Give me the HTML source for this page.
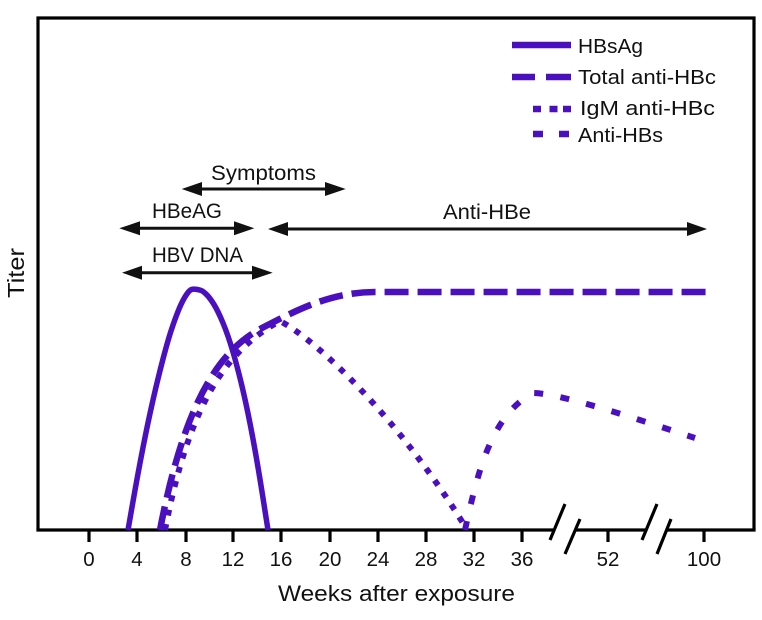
<!DOCTYPE html>
<html><head><meta charset="utf-8"><style>html,body{margin:0;padding:0;background:#fff}svg{display:block}</style></head>
<body>
<svg width="762" height="620" viewBox="0 0 762 620" xmlns="http://www.w3.org/2000/svg" font-family="Liberation Sans, Arial, sans-serif">
<rect width="762" height="620" fill="#fff"/>
<!-- frame -->
<g stroke="#000" stroke-width="3.2" fill="none">
<polyline points="38,530 38,18 754,18 754,530"/>
<line x1="36.4" y1="530" x2="553" y2="530"/>
<line x1="575" y1="530" x2="645" y2="530"/>
<line x1="667" y1="530" x2="755.6" y2="530"/>
<!-- ticks -->
<line x1="89" y1="530" x2="89" y2="542"/>
<line x1="137" y1="530" x2="137" y2="542"/>
<line x1="186" y1="530" x2="186" y2="542"/>
<line x1="233" y1="530" x2="233" y2="542"/>
<line x1="281" y1="530" x2="281" y2="542"/>
<line x1="330" y1="530" x2="330" y2="542"/>
<line x1="378" y1="530" x2="378" y2="542"/>
<line x1="426" y1="530" x2="426" y2="542"/>
<line x1="474" y1="530" x2="474" y2="542"/>
<line x1="522" y1="530" x2="522" y2="542"/>
<line x1="608" y1="530" x2="608" y2="542"/>
<line x1="704" y1="530" x2="704" y2="542"/>
<!-- breaks -->
<line x1="550" y1="540" x2="565" y2="504"/>
<line x1="565" y1="554" x2="580" y2="519"/>
<line x1="642" y1="540" x2="657" y2="504"/>
<line x1="657" y1="554" x2="671" y2="519"/>
</g>
<!-- tick labels -->
<g font-size="20.5" fill="#111" text-anchor="middle">
<text x="89" y="566">0</text>
<text x="137" y="566">4</text>
<text x="186" y="566">8</text>
<text x="233" y="566">12</text>
<text x="281" y="566">16</text>
<text x="330" y="566">20</text>
<text x="378" y="566">24</text>
<text x="426" y="566">28</text>
<text x="474" y="566">32</text>
<text x="522" y="566">36</text>
<text x="608" y="566">52</text>
<text x="704" y="566">100</text>
</g>
<text x="278" y="601" font-size="22.5" fill="#111" textLength="237" lengthAdjust="spacingAndGlyphs">Weeks after exposure</text>
<text transform="translate(24,298) rotate(-90)" font-size="23" fill="#111" textLength="50" lengthAdjust="spacingAndGlyphs">Titer</text>

<!-- arrows -->
<g stroke="#111" stroke-width="3" fill="none">
<line x1="195" y1="189" x2="333" y2="189"/>
<line x1="132" y1="228.3" x2="241" y2="228.3"/>
<line x1="281" y1="229" x2="694" y2="229"/>
<line x1="135" y1="272.7" x2="260" y2="272.7"/>
</g>
<g fill="#111">
<polygon points="181.7,189 202,182 202,196"/>
<polygon points="345.7,189 325,182 325,196"/>
<polygon points="119.3,228.3 140,221.3 140,235.3"/>
<polygon points="254.3,228.3 234,221.3 234,235.3"/>
<polygon points="268,229 288,222 288,236"/>
<polygon points="707,229 687,222 687,236"/>
<polygon points="122,272.7 142,265.7 142,279.7"/>
<polygon points="272.7,272.7 252,265.7 252,279.7"/>
</g>
<g font-size="21.5" fill="#111">
<text x="211" y="180" textLength="105" lengthAdjust="spacingAndGlyphs">Symptoms</text>
<text x="152" y="218" textLength="70" lengthAdjust="spacingAndGlyphs">HBeAG</text>
<text x="152" y="262" textLength="91" lengthAdjust="spacingAndGlyphs">HBV DNA</text>
<text x="443" y="219" textLength="88" lengthAdjust="spacingAndGlyphs">Anti-HBe</text>
</g>

<!-- legend -->
<g stroke="#4a10c0" stroke-width="6.5" fill="none">
<line x1="512" y1="45" x2="571" y2="45"/>
<line x1="512" y1="77" x2="535" y2="77"/>
<line x1="546" y1="77" x2="571" y2="77"/>
<line x1="533" y1="109" x2="541" y2="109"/>
<line x1="549.5" y1="109" x2="557.5" y2="109"/>
<line x1="563" y1="109" x2="571" y2="109"/>
<line x1="533" y1="134" x2="543" y2="134"/>
<line x1="559" y1="134" x2="569" y2="134"/>
</g>
<g font-size="20.5" fill="#111">
<text x="578" y="53" textLength="65" lengthAdjust="spacingAndGlyphs">HBsAg</text>
<text x="578" y="84" textLength="138" lengthAdjust="spacingAndGlyphs">Total anti-HBc</text>
<text x="580" y="115" textLength="135" lengthAdjust="spacingAndGlyphs">IgM anti-HBc</text>
<text x="578" y="142" textLength="85" lengthAdjust="spacingAndGlyphs">Anti-HBs</text>
</g>

<!-- series -->
<g fill="none" stroke="#4a10c0">
<!-- Total anti-HBc -->
<path d="M160,530 C185,400 220,350 262,328 C295,311 330,292 375,292 L708,292" stroke-width="6.5" stroke-dasharray="24 9"/>
<!-- IgM anti-HBc -->
<path d="M165,530 C189,405 226,350 280,321 C318,341 400,420 466,528" stroke-width="6" stroke-dasharray="6 8.7"/>
<!-- Anti-HBs -->
<path d="M465,530 C478,470 492,415 533,393 C560,393 640,420 695,438" stroke-width="6" stroke-dasharray="9 17.5"/>
<!-- HBsAg -->
<path stroke-width="5.5" stroke-linejoin="round" d="M128,530 L133,501.5 Q138,473 143,447.5 Q148,422 153,400 Q158,378 163,359 Q168,340 171.5,329.5 Q175,319 178,311.5 Q181,304 183.5,299.5 Q186,295 188,292.5 Q190,290 191.5,289.5 Q193,289 195.5,289.25 Q198,289.5 200.5,290.25 Q203,291 206.5,294.5 Q210,298 214,304.5 Q218,311 223,323 Q228,335 233,352 Q238,369 243,390.5 Q248,412 253,439 Q258,466 263,498 L268,530"/>
</g>
</svg>
</body></html>
